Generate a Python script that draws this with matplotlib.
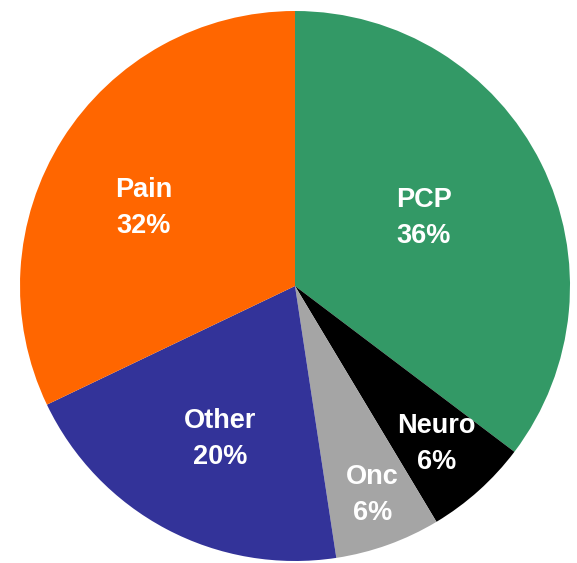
import matplotlib.pyplot as plt
import numpy as np

# Share of patients by specialty, drawn clockwise from 12 o'clock
labels = ['PCP', 'Neuro', 'Onc', 'Other', 'Pain']
shares = [35.3, 6.1, 6.2, 20.3, 32.1]      # wedge sizes
pct_text = ['36%', '6%', '6%', '20%', '32%']  # percentages as printed on the chart
colors = ['#339966', '#000000', '#A5A5A5', '#333399', '#FF6600']

# label placement inside each wedge: fraction of radius, degrees off the wedge middle
label_radius = [0.53, 0.77, 0.81, 0.62, 0.62]
label_shift = [1.5, 0.0, 0.5, 2.0, 5.0]

fig = plt.figure(figsize=(5.77, 5.63), dpi=100)
ax = fig.add_axes([0, 0, 1, 1])

wedges, _ = ax.pie(shares, colors=colors, startangle=90, counterclock=False,
                   radius=1.0, wedgeprops={'linewidth': 0})

for w, lab, pct, r, sh in zip(wedges, labels, pct_text, label_radius, label_shift):
    ang = np.deg2rad((w.theta1 + w.theta2) / 2 + sh)
    ax.text(r * np.cos(ang), r * np.sin(ang), f'{lab}\n{pct}',
            ha='center', va='center', color='white', fontsize=19.5,
            fontweight='bold', family=['Liberation Sans', 'DejaVu Sans'],
            linespacing=1.5)

ax.set_aspect('auto')
ax.set_xlim(-295 / 275, 282 / 275)
ax.set_ylim(-277 / 275, 286 / 275)
ax.axis('off')

fig.savefig('out.png', dpi=100)
